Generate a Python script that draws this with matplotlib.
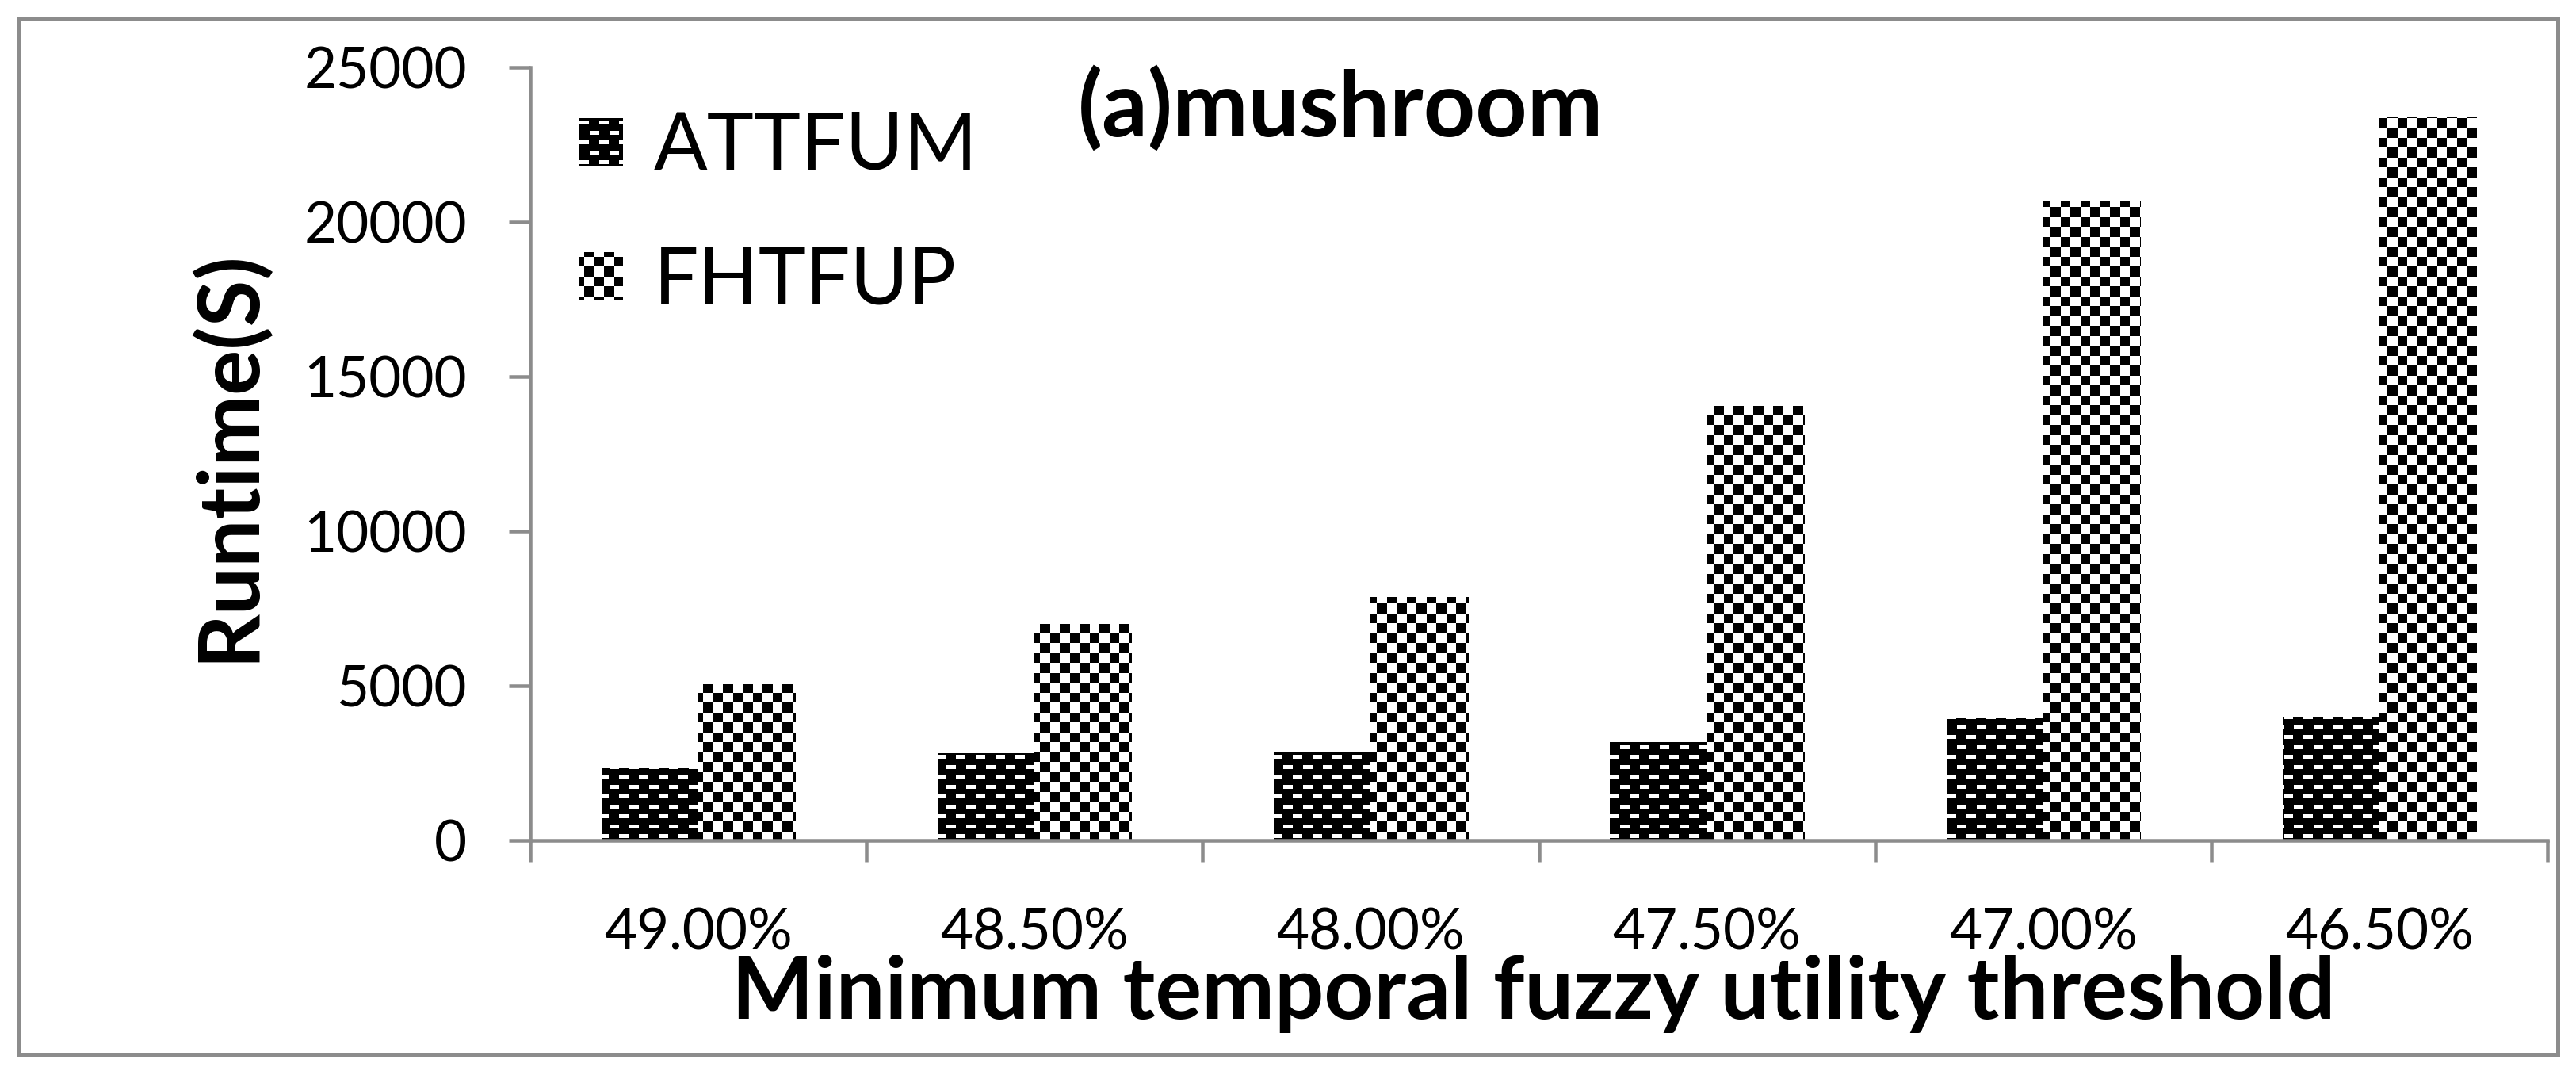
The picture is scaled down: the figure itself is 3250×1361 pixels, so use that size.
import numpy as np
import matplotlib
matplotlib.use('Agg')
import matplotlib.pyplot as plt
from matplotlib.patches import Rectangle

# data
thresholds = ['49.00%', '48.50%', '48.00%', '47.50%', '47.00%', '46.50%']
attfum = [2330, 2830, 2870, 3180, 3940, 4000]
fhtfup = [5060, 7010, 7870, 14050, 20700, 23400]
series = ['ATTFUM', 'FHTFUP']
yticks = [0, 5000, 10000, 15000, 20000, 25000]

plt.rcParams['font.family'] = ['Lato', 'DejaVu Sans']

W, H, DPI = 3250, 1361, 100
gray = '#8c8c8c'
px = 72 / DPI  # points per pixel


def pattern(kind, x0, y0, nx, ny):
    # pixel pattern anchored on the figure grid, 1 = white
    gx = np.arange(x0, x0 + nx)[None, :] + 0.5
    gy = np.arange(y0, y0 + ny)[:, None] + 0.5
    if kind == 'checker':
        v = (np.floor(gx / 12.5) + np.floor(gy / 12.5)) % 2
    else:
        row = np.floor(gy / 12.5)
        yin = gy - row * 12.5
        xin = (gx + (row % 2) * 12.5) % 25
        v = ((yin >= 4) & (yin < 9) & (xin >= 6.5) & (xin < 18.5)).astype(float)
    return v


def fill(fig, patch, kind):
    bb = patch.get_window_extent()
    x0, y0 = int(np.floor(bb.x0)) - 1, int(np.floor(bb.y0)) - 1
    nx, ny = int(np.ceil(bb.width)) + 3, int(np.ceil(bb.height)) + 3
    im = fig.figimage(pattern(kind, x0, y0, nx, ny), xo=x0, yo=y0, origin='lower',
                      cmap='gray', vmin=0, vmax=1, zorder=0)
    im.set_clip_path(patch)


fig = plt.figure(figsize=(W / DPI, H / DPI), dpi=DPI)
ax = fig.add_axes([669 / W, 1 - 1060 / H, (3214 - 669) / W, (1060 - 85) / H])
ax.set_facecolor('none')
ax.set_zorder(1)

x = np.arange(len(thresholds))
bw = 0.288
b1 = ax.bar(x - bw / 2, attfum, bw, facecolor='none', edgecolor='none', label=series[0])
b2 = ax.bar(x + bw / 2, fhtfup, bw, facecolor='none', edgecolor='none', label=series[1])

ax.set_xlim(-0.5, len(thresholds) - 0.5)
ax.set_ylim(0, 25000)
ax.set_yticks(yticks)
ax.set_xticks(np.arange(len(thresholds) + 1) - 0.5, [])
ax.set_xticks(x, thresholds, minor=True)

for s in ['top', 'right']:
    ax.spines[s].set_visible(False)
for s in ['left', 'bottom']:
    ax.spines[s].set_color(gray)
    ax.spines[s].set_linewidth(4.5 * px)

ax.tick_params(axis='both', which='major', length=27 * px, width=4.5 * px, color=gray,
               labelsize=51, labelcolor='black')
ax.tick_params(axis='y', pad=53 * px)
ax.tick_params(axis='x', which='minor', length=0, pad=84 * px, labelsize=51)

leg = ax.legend(loc='upper left', bbox_to_anchor=(730 / W, 1 - 140 / H),
                bbox_transform=fig.transFigure, frameon=False, fontsize=72,
                handlelength=0.55, handleheight=0.55, handletextpad=0.4,
                labelspacing=0.78, borderpad=0, borderaxespad=0)

fig.text(1691 / W, 1 - 172 / H, '(a)mushroom', ha='center', va='baseline',
         fontsize=82, fontweight='bold')
fig.text(1935 / W, 1 - 1285 / H, 'Minimum temporal fuzzy utility threshold',
         ha='center', va='baseline', fontsize=79, fontweight='bold')
fig.text(287 / W, 1 - 575 / H, 'Runtime(S)', ha='center', va='center',
         rotation=90, fontsize=77, fontweight='bold')

fig.add_artist(Rectangle((23 / W, 1 - 1330 / H), (3227 - 23) / W, (1330 - 24) / H,
                         transform=fig.transFigure, fill=False, edgecolor=gray,
                         linewidth=5 * px, zorder=2))

# fill bars and legend swatches with the pixel patterns
fig.canvas.draw()
for bar in b1:
    fill(fig, bar, 'brick')
for bar in b2:
    fill(fig, bar, 'checker')
lp = leg.get_patches()
fill(fig, lp[0], 'brick')
fill(fig, lp[1], 'checker')

fig.savefig('out.png', dpi=DPI)
